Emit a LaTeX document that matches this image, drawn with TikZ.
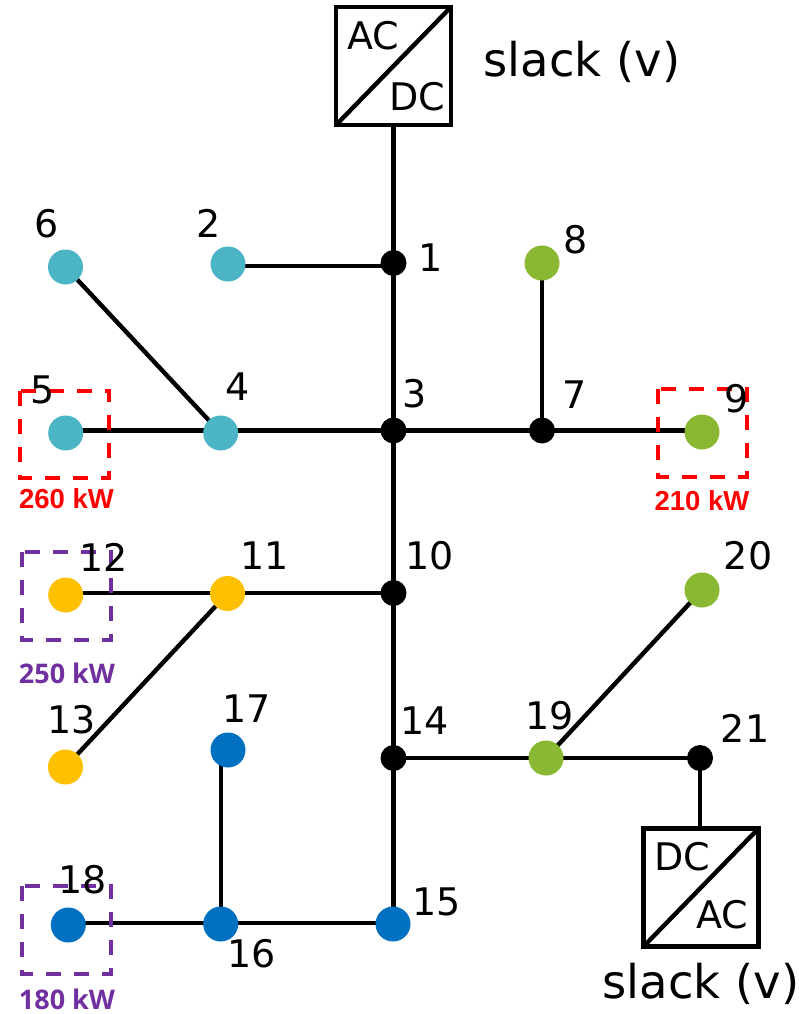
\documentclass[tikz,border=0pt]{standalone}
\usepackage{fontspec}
\setmainfont{DejaVu Sans}
\newfontfamily\kwa{Liberation Sans}[BoldFont={Liberation Sans Bold}]
\newfontfamily\kwb{Open Sans}
\usetikzlibrary{backgrounds}
\tikzset{
  x=1pt,y=-1pt,
  bus/.style={circle,inner sep=0pt,minimum size=26pt,fill=black,draw=none},
  load/.style={circle,inner sep=0pt,minimum size=35pt,draw=none},
  teal/.style={load,fill=tealc},
  amber/.style={load,fill=amberc},
  leaf/.style={load,fill=leafc},
  azure/.style={load,fill=azurec},
  num/.style={inner sep=0pt,font=\fontsize{38}{38}\selectfont,text=black},
  conv/.style={inner sep=0pt,font=\fontsize{38}{38}\selectfont,text=black},
  slacktxt/.style={inner sep=0pt,font=\fontsize{46.5}{46.5}\selectfont,text=black},
  link/.style={draw=black,line width=4.4pt},
  convbox/.style={draw=black,line width=4.4pt,fill=white,inner sep=0pt,outer sep=0pt,minimum width=115pt,minimum height=118pt},
  dashbox/.style={line width=3.6pt,dash pattern=on 15pt off 13pt},
  kwred/.style={inner sep=0pt,text=redc,font=\kwa\bfseries\fontsize{27.5}{27.5}\selectfont},
  kwpur/.style={inner sep=0pt,text=purc,font=\kwb\bfseries\fontsize{27}{27}\selectfont},
}
\definecolor{tealc}{HTML}{4BB5C6}
\definecolor{amberc}{HTML}{FFC000}
\definecolor{leafc}{HTML}{8AB833}
\definecolor{azurec}{HTML}{0070C0}
\definecolor{redc}{HTML}{FF0000}
\definecolor{purc}{HTML}{7030A0}
\begin{document}
\begin{tikzpicture}
\useasboundingbox (0,0) rectangle (798,1014);
% buses
\node[bus] (n1) at (393.5,263) {};
\node[bus] (n3) at (393.5,430.5) {};
\node[bus] (n7) at (542,430.5) {};
\node[bus] (n10) at (393.5,593) {};
\node[bus] (n14) at (393.5,758) {};
\node[bus] (n21) at (700,758) {};
\node[teal] (n2) at (228,264) {};
\node[teal] (n6) at (65.5,267) {};
\node[teal] (n4) at (220.7,433) {};
\node[teal] (n5) at (65.7,433) {};
\node[leaf] (n8) at (542,263) {};
\node[leaf] (n9) at (702,432) {};
\node[amber] (n11) at (227.5,593.5) {};
\node[amber] (n12) at (65.7,595) {};
\node[amber] (n13) at (65.5,767) {};
\node[leaf] (n19) at (546,758) {};
\node[leaf] (n20) at (702,590) {};
\node[azure] (n17) at (228,750) {};
\node[azure] (n16) at (220.7,924) {};
\node[azure] (n18) at (68.3,925) {};
\node[azure] (n15) at (393,924) {};
% converters
\node[convbox] (top) at (393.5,66) {};
\draw[line width=4.4pt,shorten >=1pt,shorten <=1pt] (top.south west) -- (top.north east);
\node[conv] (tac) at (373,36) {AC};
\node[conv] (tdc) at (417,97) {DC};
\node[convbox] (bot) at (701,887.5) {};
\draw[line width=4.4pt,shorten >=1pt,shorten <=1pt] (bot.south west) -- (bot.north east);
\node[conv] (bdc) at (682,857) {DC};
\node[conv] (bac) at (722,915) {AC};
\node[slacktxt] (s1) at (582,62) {slack (v)};
\node[slacktxt] (s2) at (701,984) {slack (v)};
% connectors
\begin{scope}[on background layer]
\fill[white] (0,0) rectangle (798,1014);
\draw[link] (top) -- (n1.center);
\draw[link] (n1.center) -- (n3.center);
\draw[link] (n3.center) -- (n10.center);
\draw[link] (n10.center) -- (n14.center);
\draw[link] (n14.center) -- (n14.center |- n15.center);
\draw[link] (n2.center |- 0,266) -- (n1.center |- 0,266);
\draw[link] (n6.center) -- (n4.center);
\draw[link] (n5.center |- n3.center) -- (n3.center);
\draw[link] (n3.center) -- (n7.center);
\draw[link] (n7.center) -- (n9.center |- n7.center);
\draw[link] (n8.center) -- (n7.center);
\draw[link] (n12.center |- n10.center) -- (n10.center);
\draw[link] (n11.center) -- (n13.center);
\draw[link] (n14.center) -- (n21.center);
\draw[link] (n19.center) -- (n20.center);
\draw[link] (n21.center) -- (n21.center |- bot.north);
\draw[link] (n18.center |- 0,923) -- (n15.center |- 0,923);
\draw[link] (n16.center) -- (n16.center |- n17.center);
\end{scope}
% dashed load boxes
\draw[dashbox,draw=redc] (20,391) rectangle (109,478);
\draw[dashbox,draw=redc] (658,389) rectangle (747,477);
\draw[dashbox,draw=purc] (22,552) rectangle (111,640);
\draw[dashbox,draw=purc] (22,886) rectangle (111,974);
\node[kwred] (k260) at (66.5,499) {260 kW};
\node[kwred] (k210) at (702,501) {210 kW};
\node[kwpur] (k250) at (67,673) {250 kW};
\node[kwpur] (k180) at (67,999) {180 kW};
% numbers
\node[num] (l1) at (431,258) {1};
\node[num] (l2) at (209,223) {2};
\node[num] (l3) at (415,394) {3};
\node[num] (l4) at (238,387) {4};
\node[num] (l5) at (43,390) {5};
\node[num] (l6) at (47,224) {6};
\node[num] (l7) at (575,395) {7};
\node[num] (l8) at (576,240) {8};
\node[num] (l9) at (737,399) {9};
\node[num] (l10) at (430,556) {10};
\node[num] (l11) at (265,556) {11};
\node[num] (l12) at (104,557) {12};
\node[num] (l13) at (72,720) {13};
\node[num] (l14) at (425,721) {14};
\node[num] (l15) at (437,902) {15};
\node[num] (l16) at (252,954) {16};
\node[num] (l17) at (247,709) {17};
\node[num] (l18) at (83,880) {18};
\node[num] (l19) at (550,716) {19};
\node[num] (l20) at (748,556) {20};
\node[num] (l21) at (745,728) {21};
\end{tikzpicture}
\end{document}
